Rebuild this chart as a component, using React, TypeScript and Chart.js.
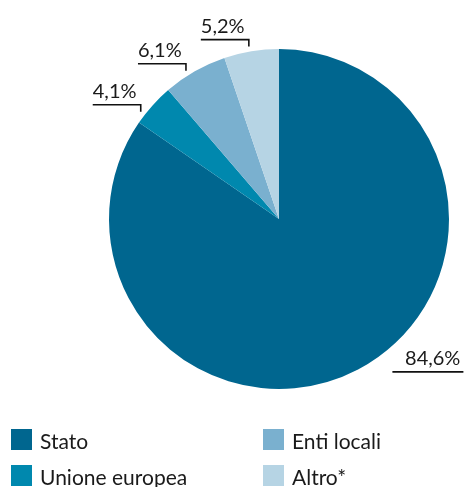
import React, { useEffect, useRef } from "react";
import { Chart, registerables } from "chart.js";

Chart.register(...registerables);

const categories = ["Stato", "Unione europea", "Enti locali", "Altro*"];
const values = [84.6, 4.1, 6.1, 5.2];
const valueLabels = ["84,6%", "4,1%", "6,1%", "5,2%"];
const colors = ["#00668f", "#0088ae", "#7ab0cf", "#b6d4e4"];
// where along each slice the leader line points (0 = start, 1 = end)
const labelAnchor = [0.5, 0.22, 0.39, 0.47];
const labelSide = ["right", "left", "left", "left"];

const FONT = "Lato, 'Open Sans', sans-serif";

const labelsPlugin = {
  id: "pieLabels",
  afterDatasetsDraw(chart: any) {
    const ctx = chart.ctx;
    const meta = chart.getDatasetMeta(0);
    ctx.save();
    ctx.strokeStyle = "#111";
    ctx.fillStyle = "#1a1a1a";
    ctx.lineWidth = 1.6;
    ctx.font = `400 20px ${FONT}`;
    ctx.textBaseline = "alphabetic";
    meta.data.forEach((arc: any, i: number) => {
      const a = arc.startAngle + labelAnchor[i] * (arc.endAngle - arc.startAngle);
      const r = arc.outerRadius + 5;
      const px = arc.x + Math.cos(a) * r;
      const py = arc.y + Math.sin(a) * r;
      if (labelSide[i] === "left") {
        const ly = py - 7;
        ctx.beginPath();
        ctx.moveTo(px - 48, ly);
        ctx.lineTo(px, ly);
        ctx.lineTo(px, py);
        ctx.stroke();
        ctx.textAlign = "left";
        ctx.fillText(valueLabels[i], px - 48, ly - 7);
      } else {
        const ly = py - 2;
        const x0 = px + 32;
        const x1 = px + 103;
        ctx.beginPath();
        ctx.moveTo(x0, ly);
        ctx.lineTo(x1, ly);
        ctx.stroke();
        ctx.textAlign = "right";
        ctx.fillText(valueLabels[i], x1 - 3, ly - 7);
      }
    });
    ctx.restore();
  },
};

const legendPlugin = {
  id: "gridLegend",
  afterDraw(chart: any) {
    const ctx = chart.ctx;
    ctx.save();
    ctx.font = `400 21px ${FONT}`;
    ctx.textAlign = "left";
    ctx.textBaseline = "alphabetic";
    const cols = [11, 263];
    const rows = [429, 465];
    categories.forEach((c, i) => {
      const col = Math.floor(i / 2);
      const row = i % 2;
      const x = cols[col];
      const y = rows[row];
      ctx.fillStyle = colors[i];
      ctx.fillRect(x, y, 21, 21);
      ctx.fillStyle = "#1a1a1a";
      ctx.fillText(c, x + 29, y + 20);
    });
    ctx.restore();
  },
};

export default function App() {
  const ref = useRef<HTMLCanvasElement>(null);
  useEffect(() => {
    if (!ref.current) return;
    const chart = new Chart(ref.current, {
      type: "pie",
      data: {
        labels: categories,
        datasets: [
          {
            data: values,
            backgroundColor: colors,
            borderWidth: 0,
          },
        ],
      },
      options: {
        animation: false,
        responsive: true,
        maintainAspectRatio: false,
        layout: { padding: { left: 109, right: 15, top: 49, bottom: 98 } },
        plugins: {
          legend: { display: false },
          tooltip: { enabled: false },
        },
      },
      plugins: [labelsPlugin, legendPlugin],
    });
    return () => chart.destroy();
  }, []);
  return (
    <div
      style={{
        position: "fixed",
        left: 0,
        top: 0,
        width: 464,
        height: 487,
        background: "#fff",
      }}
    >
      <canvas ref={ref} />
    </div>
  );
}
